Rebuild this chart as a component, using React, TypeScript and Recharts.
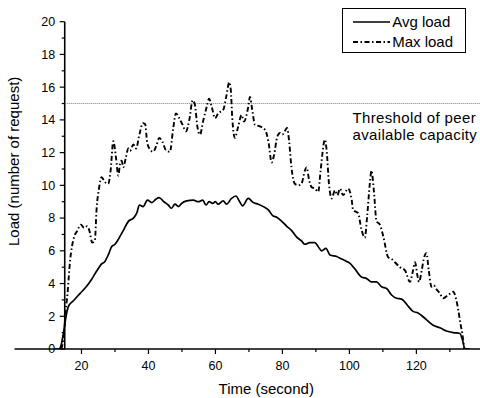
import React from 'react';
import { LineChart, Line, XAxis, YAxis, ReferenceLine, Legend, Label } from 'recharts';

// ---------- data ----------
const avgTime = [
  12, 13.2, 13.8, 14.6, 15.4, 16.1, 17.6, 19.6, 21.6, 23, 24.5, 26, 27, 28, 29, 30, 31, 32.5, 34, 35.5,
  36.5, 37.3, 38.4, 39.7, 41, 42.2, 43.2, 44.6, 45.9, 46.9, 47.9, 49, 49.9, 51.4, 53.4, 54.9, 56.2, 57.2,
  58.1, 59.2, 60, 60.8, 62.3, 63.3, 64.8, 66.1, 67.1, 68.1, 69.8, 71.3, 72.8, 74.3, 75.8, 77.1, 78.3,
  79.8, 81.3, 82.7, 84.2, 85.7, 86.7, 88.2, 89.7, 90.7, 91.7, 93, 94.2, 96.2, 97.7, 99.2, 100.1, 101.6,
  103.6, 105.2, 106.6, 108.1, 109.6, 111.1, 112.6, 114.1, 115.6, 117.6, 119, 120.5, 122, 123.5, 125,
  127, 129, 131, 133, 133.7, 134.5, 136,
];
const avgLoad = [
  0, 0, 0.15, 0.95, 2.0, 2.6, 2.95, 3.4, 3.85, 4.25, 4.75, 5.2, 5.35, 5.75, 6.25, 6.4, 6.7, 7.25, 7.8, 8.0,
  8.3, 8.8, 8.7, 9.1, 8.95, 9.15, 9.25, 9.0, 8.8, 8.6, 8.85, 8.7, 8.9, 9.05, 9.1, 9.0, 9.1, 8.8,
  9.0, 8.9, 9.0, 8.85, 9.05, 8.85, 9.2, 9.35, 9.05, 8.75, 9.2, 8.95, 8.85, 8.7, 8.5, 8.15, 8.05,
  7.8, 7.5, 7.25, 6.85, 6.6, 6.4, 6.5, 6.5, 6.25, 6.0, 6.15, 5.75, 5.65, 5.5, 5.35, 5.25, 4.9,
  4.4, 4.3, 4.1, 4.1, 3.8, 3.7, 3.3, 3.1, 3.05, 2.6, 2.3, 2.2, 1.97, 1.7, 1.45,
  1.3, 1.1, 1.0, 0.95, 0.6, 0.03, 0,
];

const maxTime = [
  14, 14.8, 15.3, 15.8, 16.2, 16.6, 17.2, 17.8, 18.7, 19.8, 20.8, 21.7, 22.4, 23.2, 24, 24.5, 25.3, 26,
  27, 28, 28.7, 29.5, 30.3, 31, 31.5, 32, 32.5, 33.2, 34, 34.5, 35.5, 36.3, 37.3, 38.3, 39, 39.6, 40.4,
  41.4, 42.4, 43.2, 44.2, 45.2, 46.4, 47.4, 48.2, 49.2, 50.2, 51.2, 52.2, 53.2, 53.9, 54.6, 55.4, 56.4,
  57.4, 58.1, 58.9, 59.9, 60.8, 62.3, 63.3, 64.1, 64.6, 65, 65.8, 66.8, 67.8, 68.5, 69.8, 70.3, 71,
  71.8, 73.3, 74.8, 75.8, 76.8, 77.5, 78.5, 79.3, 80, 81.4, 82, 82.7, 83.7, 84.7, 85.7, 86.7, 87.2,
  88, 88.7, 89.7, 90.7, 91.4, 92.7, 93.2, 93.9, 94.7, 95.7, 96.4, 97.2, 98.1, 99.6, 100.7, 101.1,
  102.6, 103.6, 104.6, 105.3, 106.1, 106.6, 107.3, 108.1, 109.1, 110.1, 111.6, 112.6, 113.6, 115.1,
  116.6, 118.1, 118.9, 119.6, 120.3, 120.8, 121.6, 122.2, 123, 123.7, 124.5, 125.2, 125.8, 127, 128,
  129.5, 131, 131.8, 132.5, 133.2, 133.7, 134.3,
];
const maxLoad = [
  0, 1.0, 2.4, 3.3, 4.4, 5.4, 6.3, 6.85, 7.2, 7.6, 7.4, 7.5, 7.2, 6.5, 6.65, 8.5, 9.9, 10.5,
  10.2, 10.1, 10.9, 12.7, 11.7, 10.6, 11.3, 11.5, 11.1, 11.65, 12.25, 12.1, 12.5, 12.25, 13.1, 13.8, 13.75, 12.65, 12.2,
  12.05, 12.45, 12.9, 12.65, 12.15, 12.05, 13.5, 14.4, 14.1, 13.7, 13.3, 14.0, 15.2, 14.9, 13.6, 13.1, 14.0,
  14.8, 15.3, 14.8, 14.1, 14.4, 14.6, 15.5, 16.3, 15.8, 14.2, 12.9, 13.6, 14.3, 13.9, 14.8, 15.4, 14.6,
  13.7, 13.6, 13.4, 12.7, 11.4, 11.85, 13.0, 13.2, 13.1, 13.5, 12.7, 11.1, 10.1, 10.0, 10.1, 10.9, 11.1,
  10.3, 9.9, 9.8, 9.6, 10.9, 12.8, 12.15, 10.1, 9.2, 9.7, 9.4, 9.8, 9.4, 9.8, 9.1, 8.5,
  8.3, 7.3, 6.8, 8.1, 10.1, 10.9, 9.7, 7.8, 7.6, 6.9, 5.6, 5.5, 5.3, 5.0,
  4.8, 4.1, 4.7, 5.3, 4.5, 4.1, 4.8, 5.5, 5.85, 4.8, 3.8, 3.9, 3.7, 3.4, 3.1,
  3.3, 3.5, 3.1, 2.4, 1.5, 0.96, 0,
];

const seriesNames = ['Avg load', 'Max load'];
const xTicks = [20, 30, 40, 50, 60, 70, 80, 90, 100, 110, 120, 130];
const xLabelTicks = [20, 40, 60, 80, 100, 120];
const yTicks = [0, 1, 2, 3, 4, 5, 6, 7, 8, 9, 10, 11, 12, 13, 14, 15, 16, 17, 18, 19, 20];
const yLabelTicks = [0, 2, 4, 6, 8, 10, 12, 14, 16, 18, 20];
const xDomain = [0, 139];
const yDomain = [0, 20];
const yAxisAt = 15;
const threshold = 15;
const xTitle = 'Time (second)';
const yTitle = 'Load (number of request)';
const thresholdText = ['Threshold of peer', 'available capacity'];

const avgData = avgTime.map((t, i) => ({ t, v: avgLoad[i] }));
const maxData = maxTime.map((t, i) => ({ t, v: maxLoad[i] }));

// ---------- layout ----------
const W = 480;
const H = 398;
const MARGIN = { top: 21.7, right: 0, left: 4.5, bottom: 0 };
const Y_W = 10;
const X_H = 49;
const PLOT_W = W - MARGIN.left - MARGIN.right - Y_W;
const AXIS_OFFSET = (PLOT_W * (yAxisAt - xDomain[0])) / (xDomain[1] - xDomain[0]);
const FONT = '"Liberation Sans", Arial, Helvetica, sans-serif';
const MAX_DASH = '5 2.5 1.5 2.5';

const XTick = (props: any) => {
  const { x, y, payload } = props;
  const major = xLabelTicks.includes(payload.value);
  return (
    <g>
      <line x1={x} x2={x} y1={y} y2={y + (major ? 5 : 3)} stroke="#000" strokeWidth={1.2} />
      {major && (
        <text x={x} y={y + 21} textAnchor="middle" fontSize={12.5} fontFamily={FONT} fill="#000">
          {payload.value}
        </text>
      )}
    </g>
  );
};

const YTick = (props: any) => {
  const { x, y, payload } = props;
  const ax = x + AXIS_OFFSET;
  const major = yLabelTicks.includes(payload.value);
  return (
    <g>
      <line x1={ax - (major ? 5 : 3)} x2={ax} y1={y} y2={y} stroke="#000" strokeWidth={1.2} />
      {major && (
        <text x={ax - 9.5} y={y + 4.4} textAnchor="end" fontSize={12.5} fontFamily={FONT} fill="#000">
          {payload.value}
        </text>
      )}
    </g>
  );
};

const LegendBox = (props: any) => {
  const { payload } = props;
  return (
    <div
      style={{
        position: 'relative',
        width: 124,
        height: 45,
        boxSizing: 'border-box',
        border: '1px solid #000',
        background: '#fff',
        fontFamily: FONT,
        fontSize: 15,
        color: '#000',
      }}
    >
      {(payload || []).map((entry: any, i: number) => (
        <div
          key={entry.value}
          style={{
            position: 'absolute',
            left: 10.5,
            top: 3 + i * 19.5,
            height: 19.5,
            display: 'flex',
            alignItems: 'center',
            whiteSpace: 'nowrap',
          }}
        >
          <svg width={37} height={6} style={{ display: 'block' }}>
            <line
              x1={0}
              x2={37}
              y1={3}
              y2={3}
              stroke="#000"
              strokeWidth={entry.value === seriesNames[1] ? 1.8 : 1.6}
              strokeDasharray={entry.value === seriesNames[1] ? MAX_DASH : undefined}
            />
          </svg>
          <span style={{ marginLeft: 2, lineHeight: '19.5px' }}>{entry.value}</span>
        </div>
      ))}
    </div>
  );
};

const ThresholdLabel = (props: any) => {
  const { viewBox } = props;
  const right = viewBox.x + viewBox.width;
  return (
    <g fontSize={15} fontFamily={FONT} fill="#000" letterSpacing={0.35}>
      <text x={right - 127.5} y={viewBox.y + 19.2}>{thresholdText[0]}</text>
      <text x={right - 127.5} y={viewBox.y + 36.2}>{thresholdText[1]}</text>
    </g>
  );
};

const YTitle = (props: any) => {
  const { viewBox } = props;
  const cx = viewBox.x + 14.5;
  const cy = viewBox.y + viewBox.height / 2 - 24;
  return (
    <text
      transform={`translate(${cx}, ${cy}) rotate(-90)`}
      textAnchor="middle"
      fontSize={15}
      fontFamily={FONT}
      fill="#000"
    >
      {yTitle}
    </text>
  );
};

export default function App() {
  return (
    <div style={{ position: 'absolute', left: 0, top: 0, background: '#fff' }}>
      <LineChart width={W} height={H} margin={MARGIN}>
        <XAxis
          dataKey="t"
          type="number"
          domain={xDomain}
          ticks={xTicks}
          interval={0}
          height={X_H}
          tickSize={0}
          tickMargin={0}
          tickLine={false}
          axisLine={{ stroke: '#000', strokeWidth: 1.6 }}
          tick={XTick}
          allowDataOverflow
        >
          <Label
            value={xTitle}
            position="insideBottom"
            offset={4.5}
            dx={19}
            fontSize={15}
            fontFamily={FONT}
            fill="#000"
          />
        </XAxis>
        <YAxis
          type="number"
          domain={yDomain}
          ticks={yTicks}
          interval={0}
          width={Y_W}
          tickSize={0}
          tickMargin={0}
          tickLine={false}
          axisLine={false}
          tick={YTick}
          allowDataOverflow
        >
          <Label content={YTitle} />
        </YAxis>
        <ReferenceLine x={yAxisAt} stroke="#000" strokeWidth={1.6} />
        <ReferenceLine
          segment={[
            { x: yAxisAt, y: threshold },
            { x: xDomain[1], y: threshold },
          ]}
          stroke="#5f7f8f"
          strokeWidth={1}
          strokeDasharray="1 1"
        >
          <Label content={ThresholdLabel} />
        </ReferenceLine>
        <Line
          data={avgData}
          dataKey="v"
          name={seriesNames[0]}
          type="monotone"
          stroke="#000"
          strokeWidth={1.7}
          dot={false}
          activeDot={false}
          isAnimationActive={false}
        />
        <Line
          data={maxData}
          dataKey="v"
          name={seriesNames[1]}
          type="monotone"
          stroke="#000"
          strokeWidth={1.9}
          strokeDasharray={MAX_DASH}
          dot={false}
          activeDot={false}
          isAnimationActive={false}
        />
        <Legend
          layout="vertical"
          align="center"
          verticalAlign="middle"
          content={LegendBox}
          wrapperStyle={{ left: 341.7, top: 8.3, width: 124, height: 45 }}
        />
      </LineChart>
    </div>
  );
}
